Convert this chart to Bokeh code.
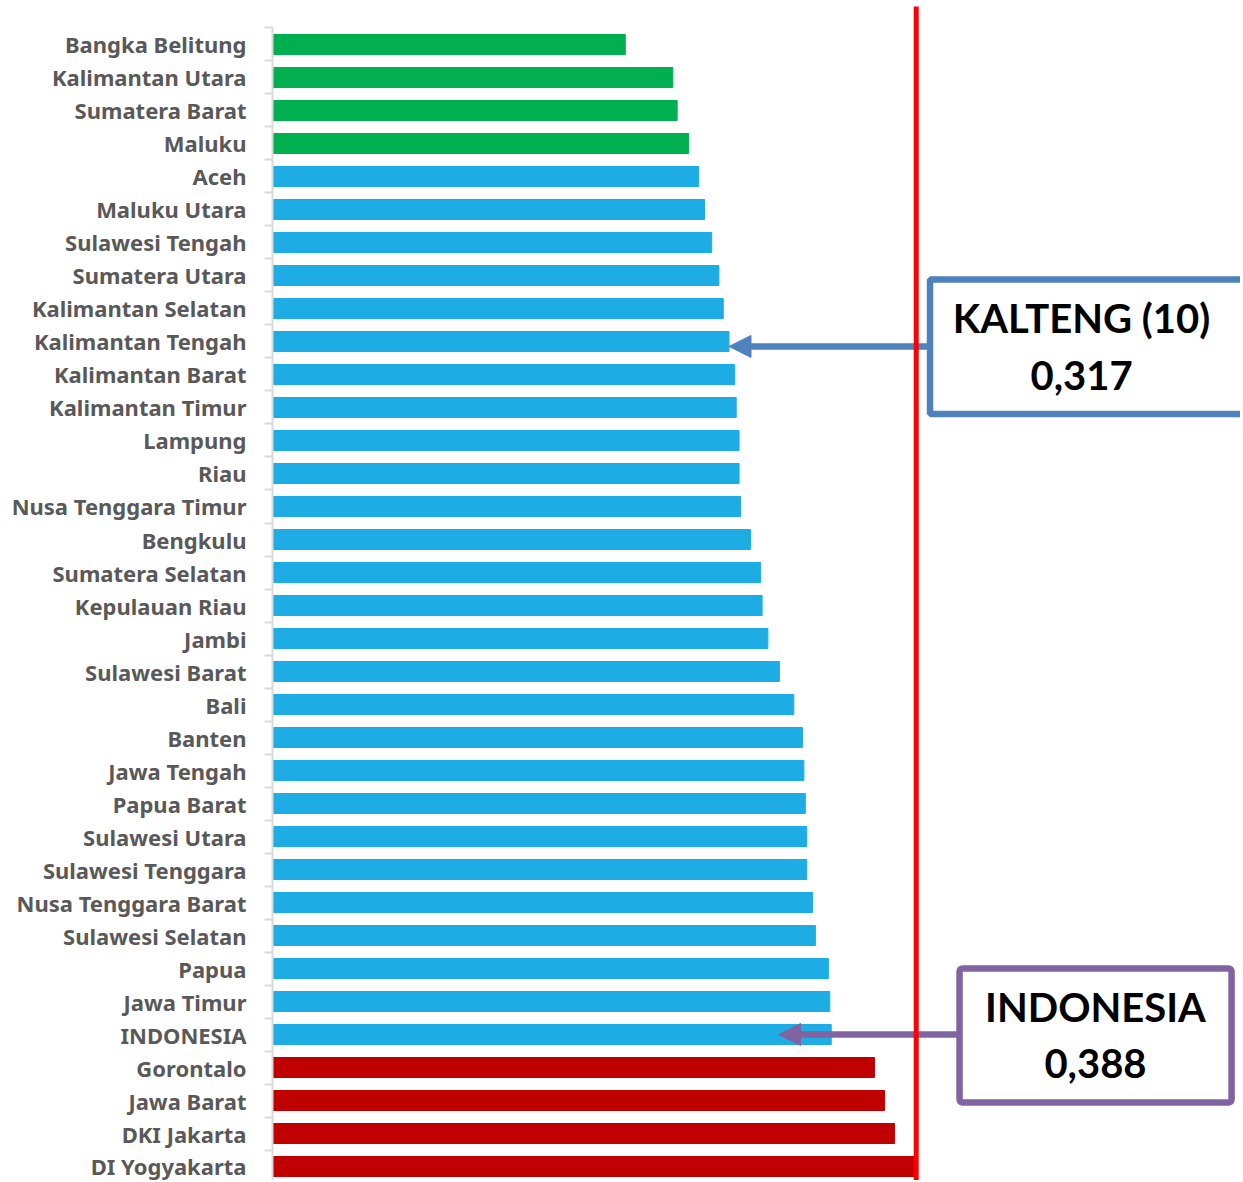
from bokeh.plotting import figure
from bokeh.models import (Range1d, FixedTicker, BoxAnnotation, Arrow,
                          NormalHead, Label, ColumnDataSource)
from bokeh.embed import file_html
from bokeh.resources import INLINE

# ---- data (top to bottom as in the chart) ----
provinces = ["Bangka Belitung", "Kalimantan Utara", "Sumatera Barat", "Maluku", "Aceh",
             "Maluku Utara", "Sulawesi Tengah", "Sumatera Utara", "Kalimantan Selatan",
             "Kalimantan Tengah", "Kalimantan Barat", "Kalimantan Timur", "Lampung", "Riau",
             "Nusa Tenggara Timur", "Bengkulu", "Sumatera Selatan", "Kepulauan Riau", "Jambi",
             "Sulawesi Barat", "Bali", "Banten", "Jawa Tengah", "Papua Barat", "Sulawesi Utara",
             "Sulawesi Tenggara", "Nusa Tenggara Barat", "Sulawesi Selatan", "Papua",
             "Jawa Timur", "INDONESIA", "Gorontalo", "Jawa Barat", "DKI Jakarta", "DI Yogyakarta"]
gini = [0.245, 0.278, 0.281, 0.289, 0.296, 0.300, 0.305, 0.310, 0.313, 0.317, 0.321, 0.322,
        0.324, 0.324, 0.325, 0.332, 0.339, 0.340, 0.344, 0.352, 0.362, 0.368, 0.369, 0.370,
        0.371, 0.371, 0.375, 0.377, 0.386, 0.387, 0.388, 0.418, 0.425, 0.432, 0.447]
group = ["low"] * 4 + ["mid"] * 27 + ["high"] * 4

group_colors = {"low": "#00B050", "mid": "#1DADE4", "high": "#C00000"}

n = len(provinces)
pos = [n - 1 - i for i in range(n)]
colors = [group_colors[g] for g in group]

src = ColumnDataSource(dict(prov=provinces, val=gini, y=pos, color=colors))

p = figure(width=1240, height=1180, output_backend="svg", toolbar_location=None,
           x_range=Range1d(0, 0.6722), y_range=Range1d(-0.4242, 35.3333),
           x_axis_location=None, min_border_left=272, min_border_right=0,
           min_border_top=0, min_border_bottom=0)
p.outline_line_color = None
p.grid.visible = False
p.background_fill_color = "white"
p.border_fill_color = "white"

p.hbar(y="y", right="val", left=0, height=0.606, color="color", source=src)

ax = p.yaxis[0]
ax.ticker = FixedTicker(ticks=pos, minor_ticks=[k - 0.5 for k in range(n + 1)])
ax.major_label_overrides = {pp: name for pp, name in zip(pos, provinces)}
ax.bounds = (-0.5, n - 0.5)
ax.axis_line_color = "#D9D9D9"
ax.axis_line_width = 2
ax.major_tick_line_color = None
ax.major_tick_out = 0
ax.major_tick_in = 0
ax.minor_tick_line_color = "#D9D9D9"
ax.minor_tick_line_width = 2
ax.minor_tick_out = 8
ax.minor_tick_in = 0
ax.major_label_standoff = 18
ax.major_label_text_font = "Noto Sans"
ax.major_label_text_font_style = "bold"
ax.major_label_text_font_size = "22px"
ax.major_label_text_color = "#595959"

# ---- annotations ----
i_kal = provinces.index("Kalimantan Tengah")
i_ind = provinces.index("INDONESIA")

blue = "#4F81BD"
purple = "#8064A2"

p.add_layout(Arrow(end=NormalHead(size=22, fill_color=blue, line_color=blue),
                   x_start=0.4566, y_start=pos[i_kal] - 0.15,
                   x_end=gini[i_kal], y_end=pos[i_kal] - 0.15,
                   line_color=blue, line_width=6.5))
p.add_layout(Arrow(end=NormalHead(size=22, fill_color=purple, line_color=purple),
                   x_start=0.4771, y_start=pos[i_ind],
                   x_end=0.3514, y_end=pos[i_ind],
                   line_color=purple, line_width=6.5))

# red reference line at the maximum value (drawn above the arrows)
ymax_line = 35.15
p.segment(x0=[max(gini)], y0=[-0.5], x1=[max(gini)], y1=[ymax_line],
          line_color="#FF0000", line_width=5, level="overlay")

p.add_layout(BoxAnnotation(left=0.4566, right=0.72, top=26.879, bottom=22.803,
                           fill_color="white", fill_alpha=1, line_color=blue,
                           line_width=6.5, line_alpha=1))
p.add_layout(BoxAnnotation(left=0.4771, right=0.6660, top=6.0, bottom=1.939,
                           fill_color="white", fill_alpha=1, line_color=purple,
                           line_width=6.5, line_alpha=1, border_radius=3))

def lab(x, y, t):
    p.add_layout(Label(x=x, y=y, text=t, text_align="center", text_baseline="middle",
                       text_font="Lato", text_font_style="bold", text_font_size="40px",
                       text_color="black"))

lab(0.5618, 25.697, "KALTENG (10)")
lab(0.5618, 23.97, "0,317")
lab(0.5715, 4.827, "INDONESIA")
lab(0.5715, 3.121, "0,388")

open("out.html", "w").write(file_html(p, INLINE))
